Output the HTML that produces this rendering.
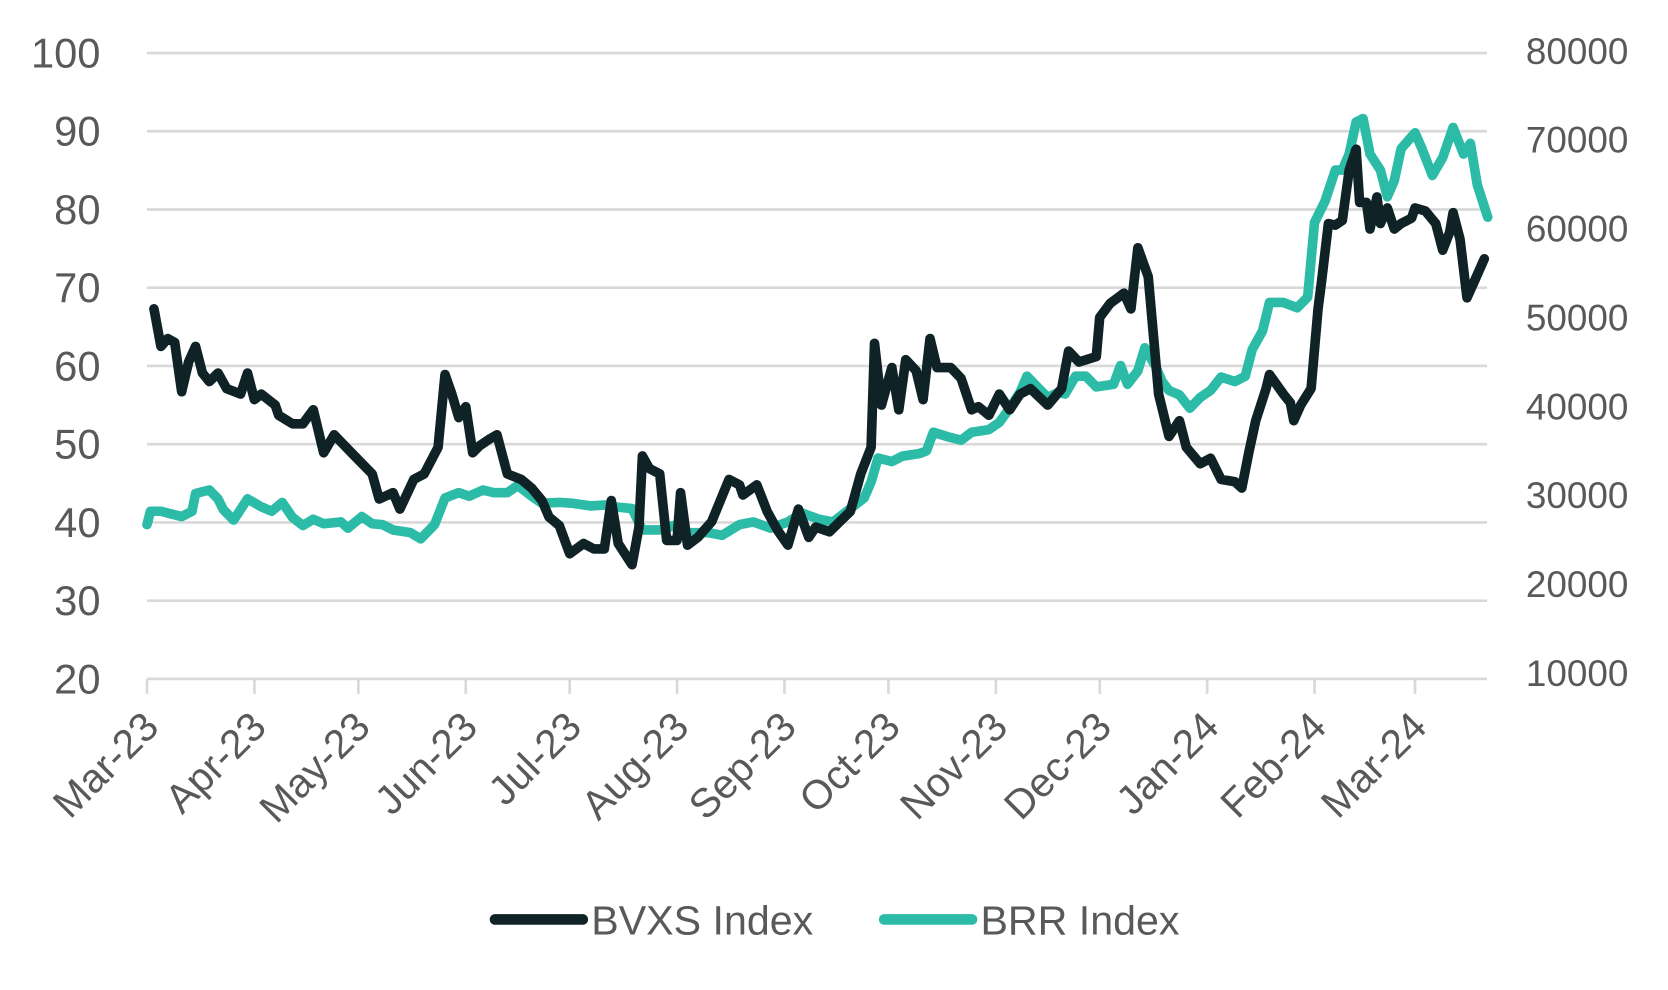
<!DOCTYPE html>
<html><head><meta charset="utf-8"><style>
html,body{margin:0;padding:0;background:#fff;}
svg{display:block;}
text{font-family:"Liberation Sans",sans-serif;fill:#595959;}
</style></head><body>
<svg id="chart" width="1668" height="990" viewBox="0 0 1560 926" preserveAspectRatio="none" xmlns="http://www.w3.org/2000/svg">
<g id="grid"></g>
<g id="yl"></g>
<g id="yr"></g>
<g id="xa"></g>
<g id="series"></g>
<g>
 <g>
  <line x1="463" y1="860" x2="545" y2="860" stroke="#0f2226" stroke-width="10" stroke-linecap="round"/>
  <text x="553" y="874" font-size="38.5">BVXS Index</text>
 </g>
 <g>
  <line x1="827" y1="860" x2="909" y2="860" stroke="#2bbba7" stroke-width="10" stroke-linecap="round"/>
  <text x="917" y="874" font-size="38.5">BRR Index</text>
 </g>
</g>
</svg>
<script>
const monthLabels=["Mar-23","Apr-23","May-23","Jun-23","Jul-23","Aug-23","Sep-23","Oct-23","Nov-23","Dec-23","Jan-24","Feb-24","Mar-24"];
const monthDays=[0,31,61,92,122,153,184,214,245,275,306,337,366];
const leftTicks=[100,90,80,70,60,50,40,30,20];
const rightTicks=[80000,70000,60000,50000,40000,30000,20000,10000];
const bvxsDays=[2,4,6,8,10,12,14,16,18,20.5,23,27,29,31,33,35,37,38,42,45,48,51,54,59,65,67,71,73,77,80,84,86,88,90,92,94,96,99,101,104,108,111,114,116,119,122,126,129,132,134,136,140,142,143,145,148,150,153,154,156,159,163,168,171,172,176,179,182,185,188,191,193,197,200,203,206,209,210,212,215,217,219,222,224,226,228,232,235,238,240,243,246,249,252,255,260,264,266,269,274,275,278,282,284,286,289,292,295,298,300,304,307,310,314,316,318,320,323,324,328,330,331,333,336,338,339,341,343,345,347,349,350,352,353,355,356,358,360,362,365,366,369,372,374,376,377,379,381,383,386];
const bvxsValues=[67.3,62.5,63.5,63,56.7,60.5,62.5,59.1,58,59.1,57.1,56.4,59.1,55.7,56.4,55.7,55,53.7,52.6,52.6,54.4,48.9,51.2,48.9,46.2,43,43.8,41.7,45.5,46.2,49.6,58.9,56.4,53.4,54.8,48.9,49.8,50.7,51.2,46.2,45.5,44.4,42.8,40.7,39.6,36,37.3,36.6,36.6,42.8,37.3,34.6,39.4,48.5,46.9,46.2,37.7,37.7,43.8,37.1,38.1,40.1,45.5,44.8,43.5,44.8,41.4,39,37.1,41.7,38.1,39.4,38.8,40.1,41.4,46.2,49.6,62.9,55,59.8,54.4,60.8,59.4,55.7,63.5,59.8,59.8,58.4,54.4,54.8,53.7,56.4,54.4,56.4,57.1,55,57.1,61.9,60.5,61.2,66.2,68,69.3,67.3,75.1,71.4,56.4,51,53,49.6,47.5,48.2,45.5,45.2,44.4,48.9,53,57.1,58.9,56.4,55.3,53,55,57.1,67.3,70.7,78.2,78,78.6,85,87.7,80.9,80.9,77.5,81.6,78.2,80.2,77.5,78.2,78.9,80.2,79.8,78.2,74.8,77.1,79.6,76.2,68.7,70.7,73.7];
const brrDays=[0,1,4,7,10,13,14,18,20.5,22,25,29,33,36,39,42,45,48,51,56,58,62,65,68,71,76,79,83,86,90,93,97,100,104,107,111,114,119,123,128,132,135,140,143,148,153,156,162,166,171,175,180,185,189,194,198,203,207,209,211,215,218,223,225,227,231,235,238,243,246,249,252,254,257,260,263,265,268,271,274,279,281,283,286,288,291,293,295,298,301,304,307,310,314,317,319,322,324,328,332,335,337,340,343,345,347,349,351,353,356,358,360,362,366,368,371,374,377,380,382,384,387];
const brrValues=[26700,28200,28200,27900,27600,28200,30200,30600,29600,28400,27200,29600,28700,28200,29200,27500,26600,27300,26800,27000,26300,27600,26800,26700,26100,25800,25100,26700,29700,30300,29900,30600,30300,30300,31100,29900,29100,29200,29100,28800,28900,28700,28500,26100,26100,26700,25800,25800,25500,26700,27000,26300,27000,28000,27300,27000,28500,29700,31500,34200,33800,34400,34700,35000,37100,36600,36200,37100,37400,38200,39800,41600,43400,42200,41000,41600,41400,43400,43400,42200,42500,44600,42500,44000,46600,44600,42800,41800,41300,39800,41000,41800,43300,42800,43400,46400,48500,51700,51700,51100,52300,60700,63100,66600,66600,68400,72000,72400,68400,66600,63600,65400,69000,70800,69000,66000,68000,71400,68400,69600,64900,61300];

const NS="http://www.w3.org/2000/svg";
const X0=137.5,X1=1390.8,DAYPX=(1323.4-137.5)/366;
const xs=d=>X0+d*DAYPX;
const yL=v=>49.6+(100-v)*(635-49.6)/80;
const yR=v=>47.7+(80000-v)*(629.5-47.7)/70000;
function mk(tag,attrs,parent){const e=document.createElementNS(NS,tag);for(const k in attrs)e.setAttribute(k,attrs[k]);parent.appendChild(e);return e;}
const grid=document.getElementById('grid'),yl=document.getElementById('yl'),yr=document.getElementById('yr'),xa=document.getElementById('xa'),ser=document.getElementById('series');
leftTicks.forEach(v=>{
  const y=yL(v);
  if(v!==20){const g=mk('line',{x1:X0,x2:X1,y1:y,y2:y,stroke:'#d9d9d9','stroke-width':2.5},grid);
  
  }
  const t=mk('text',{x:94,y:y+13.5,'text-anchor':'end','font-size':39},yl);t.textContent=v;
  
  
});
rightTicks.forEach(v=>{
  const t=mk('text',{x:1523,y:yR(v)+12,'text-anchor':'end','font-size':34.5},yr);t.textContent=v;
  
  
});
const ax=mk('line',{x1:X0,x2:X1,y1:yL(20),y2:yL(20),stroke:'#d9d9d9','stroke-width':2.5},xa);


monthDays.forEach((d,i)=>{
  const x=xs(d);
  const tk=mk('line',{x1:x,x2:x,y1:yL(20),y2:yL(20)+14,stroke:'#d9d9d9','stroke-width':2.5},xa);
  
  
  const t=mk('text',{x:x+13,y:yL(20)+47,'text-anchor':'end','font-size':38,transform:`rotate(-45 ${x+13} ${yL(20)+47})`},xa);
  t.textContent=monthLabels[i];
  
  
});
function line(days,vals,yf,color,name){
  const d=days.map((dd,i)=>(i?'L':'M')+xs(dd).toFixed(1)+','+yf(vals[i]).toFixed(1)).join('');
  const p=mk('path',{d:d,fill:'none',stroke:color,'stroke-width':9,'stroke-linejoin':'round','stroke-linecap':'round'},ser);
  
  
}
line(brrDays,brrValues,yR,'#2bbba7','brr-index-line');
line(bvxsDays,bvxsValues,yL,'#0f2226','bvxs-index-line');
</script>
</body></html>
